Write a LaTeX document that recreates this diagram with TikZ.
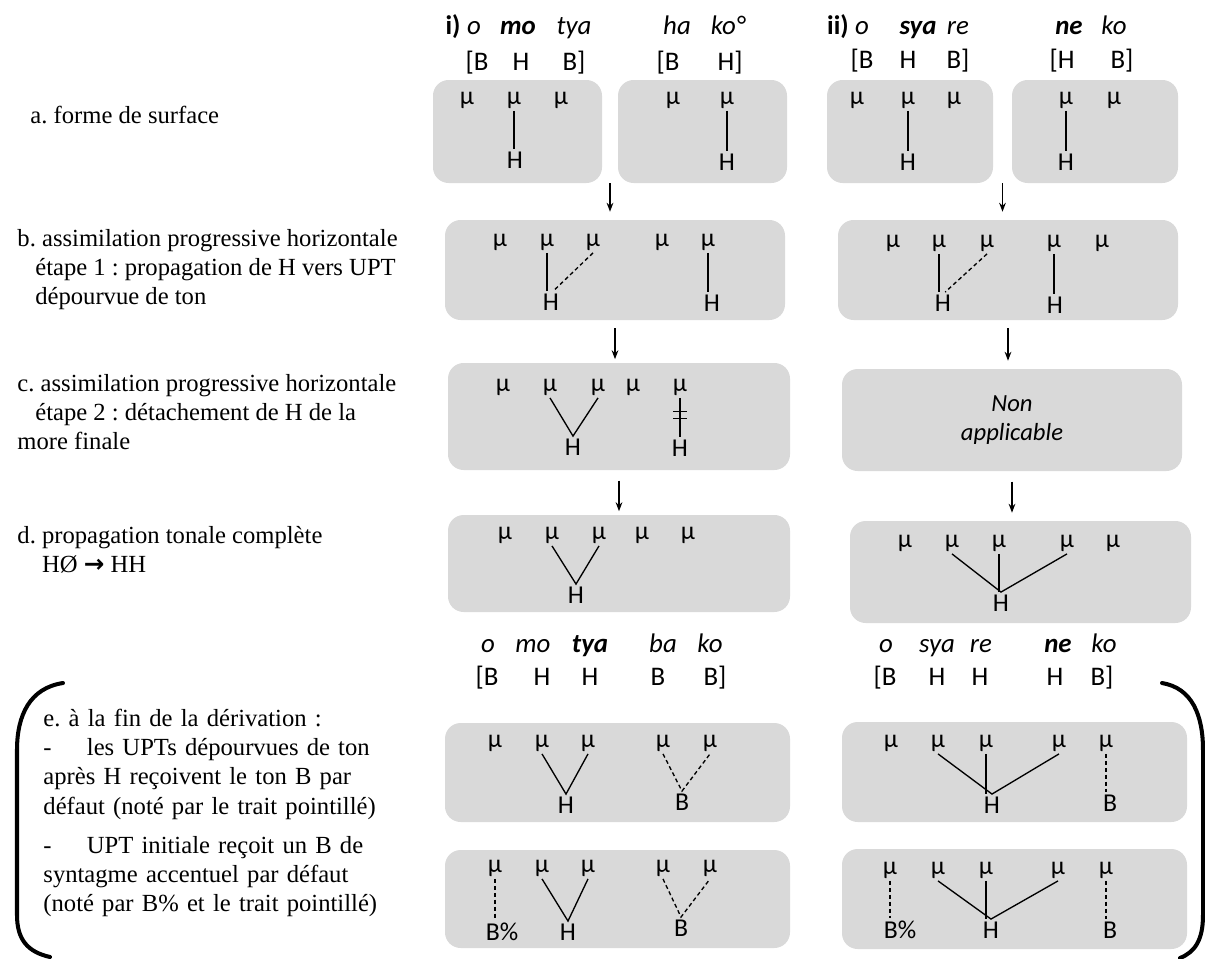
\documentclass[tikz,border=0pt]{standalone}
\usepackage{fontspec}
\setmainfont{Liberation Serif}
\newfontfamily\calib{Carlito}
\newfontfamily\arrowfont{DejaVu Sans}
\usetikzlibrary{positioning, arrows.meta, fit, calc}
\definecolor{boxgray}{HTML}{D9D9D9}
\frenchspacing

\begin{document}
\begin{tikzpicture}[x=0.0157cm, y=-0.0157cm,
    graybox/.style={fill=boxgray, draw=none, rounded corners=7pt, inner sep=0pt},
    mu/.style={font=\calib\fontsize{11.5}{13}\selectfont, inner sep=1pt},
    tone/.style={font=\calib\fontsize{11.5}{13}\selectfont, inner sep=1pt},
    syl/.style={font=\calib\fontsize{12}{14}\selectfont\itshape, anchor=base, inner sep=0pt},
    sylb/.style={syl, font=\calib\fontsize{12}{14}\selectfont\bfseries\itshape},
    headtone/.style={font=\calib\fontsize{12}{14}\selectfont, anchor=base, inner sep=0pt},
    headnum/.style={font=\calib\fontsize{12}{14}\selectfont\bfseries, anchor=base, inner sep=0pt},
    steptext/.style={font=\fontsize{11}{13}\selectfont, inner sep=0pt},
    assoc/.style={line width=0.6pt},
    newassoc/.style={line width=0.6pt, dash pattern=on 1.8pt off 1.3pt},
    stepar/.style={-{Stealth[length=4pt, width=3pt]}, line width=0.6pt},
    brak/.style={line width=1.8pt, line cap=round}
]
\useasboundingbox (0,0) rectangle (1205,958);

% ---- Step labels (left) ----
\node[steptext, anchor=base west] (labA) at (30,123) {a. forme de surface};
\node[steptext, anchor=north west, align=left] (labB) at (17,229)
    {b. assimilation progressive horizontale\\\hspace*{8pt}étape 1 : propagation de H vers UPT\\\hspace*{8pt}dépourvue de ton};
\node[steptext, anchor=north west, align=left] (labC) at (17,374)
    {c. assimilation progressive horizontale\\\hspace*{8pt}étape 2 : détachement de H de la\\more finale};
\node[steptext, anchor=north west, align=left] (labD) at (17,526)
    {d. propagation tonale complète\\\hspace*{11pt}HØ {\arrowfont\bfseries\fontsize{11}{11}\selectfont →} HH};
\node[steptext, anchor=north west, text width=156pt, align=left] (labE) at (43,709) {%
    e. à la fin de la dérivation :\\
    \makebox[\linewidth][s]{-\hspace{1.1em} les UPTs dépourvues de ton}\\
    \makebox[\linewidth][s]{après H reçoivent le ton B par}\\
    \makebox[\linewidth][s]{défaut (noté par le trait pointillé)}\\[4.5pt]
    \makebox[\linewidth][s]{-\hspace{1.1em} UPT initiale reçoit un B de}\\
    syntagme accentuel par défaut\\
    \makebox[\linewidth][s]{(noté par B\% et le trait pointillé)}};

% ---- Brackets round step e ----
\draw[brak] (63,683) .. controls (30,688) and (17,715) .. (17,750) -- (17,915) .. controls (17,940) and (28,952) .. (50,957);
\draw[brak] (1162,683) .. controls (1192,688) and (1203,715) .. (1203,750) -- (1203,915) .. controls (1203,940) and (1195,952) .. (1180,958);

% ---- Column i : header ----
\node[headnum] (iNum) at (453,35) {i)};
\node[syl]  (iO)   at (474,35) {o};
\node[sylb] (iMo)  at (518,35) {mo};
\node[syl]  (iTya) at (574,35) {tya};
\node[syl]  (iHa)  at (677,35) {ha};
\node[syl]  (iKo)  at (728,35) {ko°};
\foreach \x/\tn [count=\i] in {477/{[B}, 521/H, 574/{B]}, 668/{[B}, 730/{H]}}
    { \node[headtone] (iT\i) at (\x,70) {\tn}; }

% ---- Column i : a ----
\node[graybox, fit={(433,80) (602,183)}] (iA1) {};
\node[graybox, fit={(618,80) (787,183)}] (iA2) {};
\foreach \x [count=\i] in {467,514,561} { \node[mu] (iAm\i) at (\x,100) {μ}; }
\foreach \x [count=\i] in {673,727}     { \node[mu] (iAn\i) at (\x,100) {μ}; }
\node[tone] (iAh1) at (515,160) {H};
\node[tone] (iAh2) at (727,162) {H};
\draw[assoc] (iAm2.south) -- (iAm2.south |- iAh1.north);
\draw[assoc] (iAn2.south) -- (iAn2.south |- iAh2.north);

% ---- Column i : b ----
\node[graybox, fit={(445,220) (785,320)}] (iB) {};
\foreach \x [count=\i] in {500,547,593,662,708} { \node[mu] (iBm\i) at (\x,242) {μ}; }
\node[tone] (iBh1) at (551,302) {H};
\node[tone] (iBh2) at (712,303) {H};
\draw[assoc] (iBm2.south) -- (iBm2.south |- iBh1.north);
\draw[newassoc] (iBm3.south) -- ([xshift=1pt]iBh1.north);
\draw[assoc] (iBm5.south) -- (iBm5.south |- iBh2.north);

% ---- Column i : c ----
\node[graybox, fit={(448,363) (790,470)}] (iC) {};
\foreach \x [count=\i] in {503,550,598,633,680} { \node[mu] (iCm\i) at (\x,387) {μ}; }
\node[tone] (iCh1) at (573,447) {H};
\node[tone] (iCh2) at (680,448) {H};
\draw[assoc] (iCm2.south) -- (iCh1.north) -- (iCm3.south);
\draw[assoc] (iCm5.south) -- (iCh2.north);
\foreach \p in {0.35,0.53} { \draw[assoc] ($(iCm5.south)!\p!(iCh2.north)+(-7,0)$) -- +(14,0); }

% ---- Column i : d ----
\node[graybox, fit={(448,515) (790,612)}] (iD) {};
\foreach \x [count=\i] in {505,552,599,642,688} { \node[mu] (iDm\i) at (\x,535) {μ}; }
\node[tone] (iDh) at (576,595) {H};
\draw[assoc] (iDm2.south) -- (iDh.north) -- (iDm3.south);

% ---- Column i : arrows ----
\coordinate (iAmid) at ($(iA1.south east)!0.5!(iA2.south west)$);
\draw[stepar, shorten >=3.5pt] (iAmid) -- (iAmid |- iB.north);
\draw[stepar, shorten <=3.5pt, shorten >=1.5pt] (iB.south) -- (iB.south |- iC.north);
\draw[stepar, shorten <=4.5pt, shorten >=1.5pt] (iC.south) -- (iC.south |- iD.north);

% ---- Column i : output ----
\node[syl]  (iOb)  at (488,652) {o};
\node[syl]  (iMob) at (533,652) {mo};
\node[sylb] (iTyb) at (590,652) {tya};
\node[syl]  (iBa)  at (663,652) {ba};
\node[syl]  (iKob) at (710,652) {ko};
\foreach \x/\tn [count=\i] in {487/{[B}, 542/H, 590/H, 658/B, 715/{B]}}
    { \node[headtone] (iU\i) at (\x,685) {\tn}; }

\node[graybox, fit={(445,723) (790,822)}] (iE) {};
\foreach \x [count=\i] in {495,542,588,663,710} { \node[mu] (iEm\i) at (\x,743) {μ}; }
\node[tone] (iEh) at (566,805) {H};
\node[tone] (iEb) at (682,802) {B};
\draw[assoc] (iEm2.south) -- (iEh.north) -- (iEm3.south);
\draw[newassoc] (iEm4.south) -- (iEb.north) -- (iEm5.south);

\node[graybox, fit={(445,850) (790,948)}] (iF) {};
\foreach \x [count=\i] in {495,542,588,663,710} { \node[mu] (iFm\i) at (\x,868) {μ}; }
\node[tone] (iFbp) at (502,932) {B\%};
\node[tone] (iFh)  at (568,932) {H};
\node[tone] (iFb)  at (681,928) {B};
\draw[newassoc] (iFm1.south) -- (iFm1.south |- iFbp.north);
\draw[assoc] (iFm2.south) -- (iFh.north) -- (iFm3.south);
\draw[newassoc] (iFm4.south) -- (iFb.north) -- (iFm5.south);

% ---- Column ii : header ----
\node[headnum] (iiNum) at (838,35) {ii)};
\node[syl]  (iiO)   at (862,35) {o};
\node[sylb] (iiSya) at (918,35) {sya};
\node[syl]  (iiRe)  at (958,35) {re};
\node[sylb] (iiNe)  at (1069,35) {ne};
\node[syl]  (iiKo)  at (1114,35) {ko};
\foreach \x/\tn [count=\i] in {862/{[B}, 908/H, 958/{B]}, 1062/{[H}, 1122/{B]}}
    { \node[headtone] (iiT\i) at (\x,68) {\tn}; }

% ---- Column ii : a ----
\node[graybox, fit={(827,80) (993,183)}] (iiA1) {};
\node[graybox, fit={(1012,80) (1178,183)}] (iiA2) {};
\foreach \x [count=\i] in {857,908,954} { \node[mu] (iiAm\i) at (\x,100) {μ}; }
\foreach \x [count=\i] in {1066,1114}   { \node[mu] (iiAn\i) at (\x,100) {μ}; }
\node[tone] (iiAh1) at (908,162) {H};
\node[tone] (iiAh2) at (1066,162) {H};
\draw[assoc] (iiAm2.south) -- (iiAm2.south |- iiAh1.north);
\draw[assoc] (iiAn1.south) -- (iiAn1.south |- iiAh2.north);

% ---- Column ii : b ----
\node[graybox, fit={(838,220) (1178,320)}] (iiB) {};
\foreach \x [count=\i] in {893,939,987,1054,1102} { \node[mu] (iiBm\i) at (\x,243) {μ}; }
\node[tone] (iiBh1) at (943,303) {H};
\node[tone] (iiBh2) at (1055,305) {H};
\draw[assoc] (iiBm2.south) -- (iiBm2.south |- iiBh1.north);
\draw[newassoc] (iiBm3.south) -- ([xshift=1pt]iiBh1.north);
\draw[assoc] (iiBm4.south) -- (iiBm4.south |- iiBh2.north);

% ---- Column ii : c ----
\node[graybox, fit={(842,369) (1182,471)}] (iiC) {};
\node[font=\calib\fontsize{11}{13}\selectfont\itshape, align=center] (iiNa) at (iiC) {Non\\applicable};

% ---- Column ii : d ----
\node[graybox, fit={(850,521) (1191,623)}] (iiD) {};
\foreach \x [count=\i] in {905,952,999,1067,1113} { \node[mu] (iiDm\i) at (\x,543) {μ}; }
\node[tone] (iiDh) at (1001,603) {H};
\draw[assoc] (iiDm2.south) -- (iiDh.north) -- (iiDm4.south);
\draw[assoc] (iiDm3.south) -- (iiDm3.south |- iiDh.north);

% ---- Column ii : arrows ----
\coordinate (iiAmid) at ($(iiA1.south east)!0.5!(iiA2.south west)$);
\draw[stepar, shorten >=3.5pt] (iiAmid) -- (iiAmid |- iiB.north);
\draw[stepar, shorten <=3.5pt, shorten >=3.5pt] (iiB.south) -- (iiB.south |- iiC.north);
\draw[stepar, shorten <=4.5pt, shorten >=3.5pt] (iiC.south) -- (iiC.south |- iiD.north);

% ---- Column ii : output ----
\node[syl]  (iiOb)  at (886,652) {o};
\node[syl]  (iiSyb) at (937,652) {sya};
\node[syl]  (iiReb) at (981,652) {re};
\node[sylb] (iiNeb) at (1058,652) {ne};
\node[syl]  (iiKob) at (1104,652) {ko};
\foreach \x/\tn [count=\i] in {885/{[B}, 937/H, 980/H, 1055/H, 1102/{B]}}
    { \node[headtone] (iiU\i) at (\x,685) {\tn}; }

\node[graybox, fit={(842,722) (1187,822)}] (iiE) {};
\foreach \x [count=\i] in {891,938,986,1059,1106} { \node[mu] (iiEm\i) at (\x,743) {μ}; }
\node[tone] (iiEh) at (992,805) {H};
\node[tone] (iiEb) at (1110,803) {B};
\draw[assoc] (iiEm2.south) -- (iiEh.north) -- (iiEm4.south);
\draw[assoc] (iiEm3.south) -- (iiEm3.south |- iiEh.north);
\draw[newassoc] (iiEm5.south) -- (iiEm5.south |- iiEb.north);

\node[graybox, fit={(842,849) (1187,949)}] (iiF) {};
\foreach \x [count=\i] in {890,938,986,1058,1106} { \node[mu] (iiFm\i) at (\x,870) {μ}; }
\node[tone] (iiFbp) at (900,930) {B\%};
\node[tone] (iiFh)  at (991,930) {H};
\node[tone] (iiFb)  at (1110,930) {B};
\draw[newassoc] (iiFm1.south) -- (iiFm1.south |- iiFbp.north);
\draw[assoc] (iiFm2.south) -- (iiFh.north) -- (iiFm4.south);
\draw[assoc] (iiFm3.south) -- (iiFm3.south |- iiFh.north);
\draw[newassoc] (iiFm5.south) -- (iiFm5.south |- iiFb.north);

\end{tikzpicture}
\end{document}
